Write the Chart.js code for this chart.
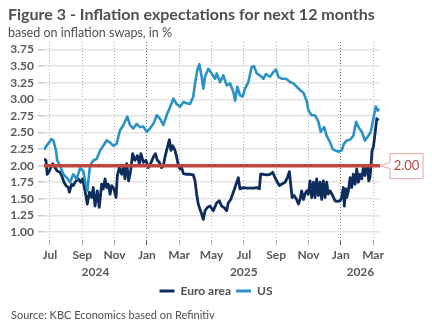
<!DOCTYPE html>
<html>
<head>
<meta charset="utf-8">
<script src="https://cdn.jsdelivr.net/npm/chart.js@4.4.1/dist/chart.umd.min.js"></script>
<style>
html,body{margin:0;padding:0;background:#fff;}
#wrap{position:relative;width:432px;height:334px;overflow:hidden;font-family:Lato,"Open Sans",sans-serif;color:#4f4f4f;}
#chart{position:absolute;left:0;top:0;}
#title{position:absolute;left:8px;top:4px;font-weight:bold;font-size:16px;white-space:nowrap;}
#subtitle{position:absolute;left:8px;top:25px;font-size:12.5px;white-space:nowrap;}
#source{position:absolute;left:11px;top:308px;font-size:11px;white-space:nowrap;}
</style>
</head>
<body>
<div id="wrap">
<canvas id="chart" width="432" height="334"></canvas>
<div id="title">Figure 3 - Inflation expectations for next 12 months</div>
<div id="subtitle">based on inflation swaps, in %</div>
<div id="source">Source: KBC Economics based on Refinitiv</div>
</div>
<script>
// x values: months since 1 July 2024
const euroMonths = [
-0.37,-0.25,-0.17,-0.04,0.04,0.17,0.31,0.45,0.62,0.72,
0.87,0.99,1.14,1.20,1.34,1.44,1.61,1.75,1.90,2.02,
2.17,2.31,2.44,2.58,2.68,2.79,2.93,3.05,3.20,3.30,
3.41,3.51,3.61,3.72,3.82,3.96,4.09,4.17,4.29,4.44,
4.54,4.64,4.75,4.87,4.99,5.12,5.26,5.41,5.53,5.63,
5.78,5.94,6.09,6.23,6.40,6.52,6.65,6.77,6.91,7.02,
7.12,7.22,7.39,7.49,7.60,7.74,7.84,7.95,8.05,8.15,
8.26,8.46,8.67,8.87,8.98,9.08,9.18,9.29,9.39,9.49,
9.60,9.74,9.91,10.11,10.32,10.48,10.63,10.77,10.94,11.04,
11.19,11.35,11.52,11.66,11.76,11.97,12.18,12.38,12.59,12.80,
12.96,13.04,13.21,13.42,13.62,13.79,13.93,14.08,14.20,14.34,
14.55,14.70,14.82,14.90,14.99,15.11,15.27,15.38,15.48,15.58,
15.69,15.79,15.89,15.99,16.10,16.20,16.31,16.41,16.51,16.62,
16.72,16.82,16.92,17.03,17.13,17.23,17.34,17.50,17.65,17.79,
17.96,18.06,18.16,18.22,18.31,18.37,18.47,18.58,18.68,18.78,
18.89,18.99,19.09,19.19,19.30,19.40,19.50,19.61,19.67,19.73,
19.81,19.88,19.94,20.02,20.12,20.23,20.33
];
const euroValues = [
2.10,2.08,1.87,1.92,1.97,2.03,1.97,1.92,1.90,1.85,
1.75,1.70,1.67,1.60,1.72,1.70,1.77,1.80,1.75,1.80,
1.62,1.42,1.60,1.52,1.67,1.39,1.62,1.37,1.72,1.65,
1.80,1.67,1.72,1.57,1.70,1.65,1.52,1.85,1.97,1.87,
2.00,1.80,2.03,1.77,1.92,2.18,2.08,2.15,2.03,2.18,
2.05,2.08,1.97,2.03,2.13,2.18,2.08,2.05,1.97,2.00,
2.13,2.23,2.39,2.23,2.30,2.23,2.13,2.00,1.95,1.97,
1.88,1.87,1.87,1.86,1.77,1.57,1.42,1.34,1.27,1.19,
1.32,1.37,1.39,1.32,1.44,1.47,1.39,1.37,1.32,1.44,
1.49,1.60,1.72,1.82,1.65,1.67,1.66,1.66,1.66,1.67,
1.65,1.87,1.87,1.86,1.87,1.90,1.82,1.75,1.70,1.72,
1.75,1.82,1.91,1.72,1.52,1.55,1.49,1.42,1.49,1.62,
1.49,1.57,1.62,1.57,1.77,1.52,1.75,1.52,1.80,1.55,
1.75,1.49,1.77,1.52,1.75,1.57,1.62,1.55,1.47,1.46,
1.47,1.52,1.67,1.39,1.65,1.52,1.62,1.82,1.67,1.87,
1.72,1.95,1.75,1.87,1.80,1.97,1.85,2.00,1.97,1.77,
1.82,2.03,2.23,2.28,2.48,2.71,2.68
];
const usMonths = [
-0.37,-0.21,0.10,0.21,0.37,0.45,0.62,0.83,1.03,1.24,
1.44,1.65,1.86,2.06,2.23,2.31,2.48,2.68,2.89,3.10,
3.30,3.51,3.71,3.92,4.13,4.33,4.54,4.79,4.95,5.16,
5.37,5.57,5.78,5.99,6.19,6.40,6.61,6.81,7.02,7.22,
7.43,7.64,7.84,8.05,8.26,8.46,8.67,8.87,8.98,9.12,
9.25,9.39,9.49,9.60,9.80,10.01,10.22,10.32,10.53,10.73,
10.94,11.15,11.35,11.46,11.60,11.76,11.93,12.07,12.28,12.49,
12.63,12.80,13.00,13.21,13.37,13.62,13.83,13.99,14.14,14.34,
14.61,14.86,15.07,15.27,15.48,15.69,15.89,16.00,16.20,16.41,
16.62,16.76,16.97,17.13,17.34,17.50,17.65,17.85,18.06,18.20,
18.37,18.58,18.78,18.95,19.15,19.30,19.50,19.71,19.86,19.98,
20.06,20.17,20.29,20.37
];
const usValues = [
2.24,2.30,2.40,2.38,2.23,2.08,2.00,1.87,1.82,1.75,
1.87,1.80,1.96,1.92,1.70,1.62,2.00,2.08,2.10,2.23,
2.30,2.38,2.35,2.30,2.33,2.53,2.61,2.74,2.61,2.56,
2.63,2.58,2.59,2.51,2.56,2.63,2.76,2.71,2.61,2.76,
2.88,3.01,2.93,2.89,2.96,2.94,2.93,3.04,3.24,3.44,
3.53,3.34,3.16,3.34,3.46,3.39,3.31,3.39,3.26,3.36,
3.21,3.24,3.11,2.98,3.19,3.06,3.04,3.16,3.26,3.49,
3.50,3.39,3.36,3.31,3.38,3.34,3.41,3.45,3.34,3.31,
3.31,3.26,3.24,3.19,3.14,3.10,2.98,2.83,2.76,2.76,
2.66,2.51,2.58,2.45,2.35,2.25,2.23,2.21,2.23,2.33,
2.38,2.39,2.45,2.66,2.56,2.51,2.38,2.45,2.51,2.66,
2.76,2.89,2.83,2.86
];
const seriesNames = ['Euro area','US'];
const targetValue = 2.00;
const targetLabel = '2.00';
const tickMonths = [0,2,4,6,8,10,12,14,16,18,20];
const tickLabels = ['Jul','Sep','Nov','Jan','Mar','May','Jul','Sep','Nov','Jan','Mar'];
const januaryMonths = [6,18];
const years = ['2024','2025','2026'];
const yearStartMonths = [-6,6,18];
const yTicks = [1.00,1.25,1.50,1.75,2.00,2.25,2.50,2.75,3.00,3.25,3.50,3.75];
const xMin = -0.37, xMax = 20.43;
const yMin = 0.864, yMax = 3.864;

const FONT = 'Lato, "Open Sans", sans-serif';
const TXT = '#595959';
const EURO = '#0e2c5c';
const US = '#2a92c5';
const RED = '#c0443f';

const toXY = (xs, ys) => xs.map((x, i) => ({x: x, y: ys[i]}));

const yearPlugin = {
  id: 'years',
  afterDraw(chart) {
    const xs = chart.scales.x, ctx = chart.ctx;
    ctx.save();
    ctx.font = 'bold 12px ' + FONT;
    ctx.fillStyle = TXT;
    ctx.textAlign = 'center';
    ctx.textBaseline = 'middle';
    years.forEach((y, i) => {
      const a = Math.max(yearStartMonths[i], xs.min);
      const b = Math.min(yearStartMonths[i] + 12, xs.max);
      ctx.fillText(y, xs.getPixelForValue((a + b) / 2), chart.chartArea.bottom + 31);
    });
    ctx.restore();
  }
};

const calloutPlugin = {
  id: 'callout',
  afterDraw(chart) {
    const ctx = chart.ctx, area = chart.chartArea;
    const y = chart.scales.y.getPixelForValue(targetValue);
    const tip = area.right, left = area.right + 10, right = left + 33;
    const top = y - 12, bottom = y + 13;
    ctx.save();
    ctx.beginPath();
    ctx.moveTo(tip, y);
    ctx.lineTo(left, y - 3);
    ctx.lineTo(left, top);
    ctx.lineTo(right, top);
    ctx.lineTo(right, bottom);
    ctx.lineTo(left, bottom);
    ctx.lineTo(left, y + 3);
    ctx.closePath();
    ctx.fillStyle = '#fff';
    ctx.fill();
    ctx.strokeStyle = '#e6a3a1';
    ctx.lineWidth = 1;
    ctx.stroke();
    ctx.font = '13px ' + FONT;
    ctx.fillStyle = RED;
    ctx.textAlign = 'center';
    ctx.textBaseline = 'middle';
    ctx.fillText(targetLabel, (left + right) / 2, y + 0.5);
    ctx.restore();
  }
};

new Chart(document.getElementById('chart'), {
  type: 'line',
  data: {
    datasets: [
      {label: seriesNames[0], data: toXY(euroMonths, euroValues), borderColor: EURO, backgroundColor: EURO,
       borderWidth: 2.8, pointRadius: 0, tension: 0, order: 3, borderJoinStyle: 'round'},
      {label: seriesNames[1], data: toXY(usMonths, usValues), borderColor: US, backgroundColor: US,
       borderWidth: 2.6, pointRadius: 0, tension: 0, order: 2, borderJoinStyle: 'round'},
      {label: 'target', data: [{x: xMin, y: targetValue}, {x: xMax, y: targetValue}], borderColor: RED, backgroundColor: RED,
       borderWidth: 3.5, pointRadius: 0, order: 1}
    ]
  },
  options: {
    responsive: false,
    animation: false,
    devicePixelRatio: 1,
    layout: {padding: {top: 42, left: 0, right: 0, bottom: 27}},
    scales: {
      x: {
        type: 'linear', min: xMin, max: xMax,
        afterBuildTicks: s => { s.ticks = tickMonths.map(v => ({value: v})); },
        afterFit: s => { s.height = 39; },
        ticks: {autoSkip: false, maxRotation: 0, padding: 3, color: TXT,
                font: {family: FONT, weight: 'bold', size: 12},
                callback: (v, i) => tickLabels[i]},
        grid: {
          color: c => januaryMonths.includes(c.tick && c.tick.value) ? '#707070' : '#b5b5b5',
          tickColor: c => januaryMonths.includes(c.tick && c.tick.value) ? '#555' : '#aaa',
          lineWidth: 1, tickLength: 4, tickWidth: 1, tickBorderDash: [],
          borderDash: [1, 2]
        },
        border: {display: false, dash: [1, 2]}
      },
      y: {
        min: yMin, max: yMax,
        afterBuildTicks: s => { s.ticks = yTicks.map(v => ({value: v})); },
        afterFit: s => { s.width = 44; },
        ticks: {padding: 4, color: TXT, font: {family: FONT, weight: 'bold', size: 12},
                callback: v => v.toFixed(2)},
        grid: {color: '#e3e3e3', lineWidth: 1.5, tickLength: 6, tickColor: '#c8c8c8', tickWidth: 1.5},
        border: {display: false}
      },
      yRight: {
        position: 'right', display: true,
        afterFit: s => { s.width = 52; },
        ticks: {display: false}, grid: {display: false}, border: {display: false}
      }
    },
    plugins: {
      title: {display: false},
      tooltip: {enabled: false},
      legend: {
        position: 'bottom',
        labels: {
          boxWidth: 15, boxHeight: 3, padding: 5, color: '#4f4f4f',
          font: {family: FONT, weight: 'bold', size: 12},
          filter: item => item.datasetIndex < 2,
          sort: (a, b) => a.datasetIndex - b.datasetIndex,
          generateLabels: chart => {
            const items = Chart.defaults.plugins.legend.labels.generateLabels(chart);
            items.forEach(it => { it.lineWidth = 0; it.fillStyle = it.strokeStyle; });
            return items;
          }
        }
      }
    }
  },
  plugins: [yearPlugin, calloutPlugin]
});
</script>
</body>
</html>
